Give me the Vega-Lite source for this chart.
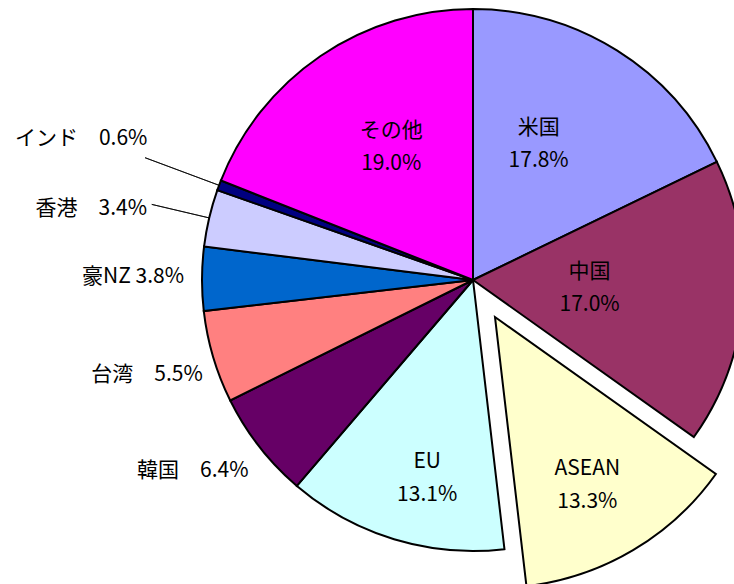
{
  "$schema": "https://vega.github.io/schema/vega-lite/v6.json",
  "autosize": "none",
  "width": 522,
  "height": 560,
  "padding": {"left": 212, "top": 0, "right": 0, "bottom": 24},
  "background": "white",
  "config": {"view": {"stroke": null}},
  "data": {
    "values": [
      {"name": "米国", "value": 17.8},
      {"name": "中国", "value": 17.0},
      {"name": "ASEAN", "value": 13.3},
      {"name": "EU", "value": 13.1},
      {"name": "韓国", "value": 6.4},
      {"name": "台湾", "value": 5.5},
      {"name": "豪NZ", "value": 3.8},
      {"name": "香港", "value": 3.4},
      {"name": "インド", "value": 0.6},
      {"name": "その他", "value": 19.0}
    ]
  },
  "transform": [
    {"window": [{"op": "row_number", "as": "idx"}]},
    {"calculate": "datum.name + '\\n' + format(datum.value, '.1f') + '%'", "as": "inLabel"},
    {"calculate": "datum.name + (datum.name === '豪NZ' ? ' ' : '\u3000') + format(datum.value, '.1f') + '%'", "as": "outLabel"}
  ],
  "encoding": {
    "theta": {"field": "value", "type": "quantitative", "stack": true},
    "order": {"field": "idx", "type": "quantitative"}
  },
  "layer": [
    {
      "mark": {"type": "arc", "outerRadius": 271, "stroke": "black", "strokeWidth": 2},
      "encoding": {
        "color": {
          "field": "name", "type": "nominal", "legend": null,
          "scale": {
            "domain": ["米国", "中国", "ASEAN", "EU", "韓国", "台湾", "豪NZ", "香港", "インド", "その他"],
            "range": ["#9999FF", "#993366", "#FFFFCC", "#CCFFFF", "#660066", "#FF8080", "#0066CC", "#CCCCFF", "#000080", "#FF00FF"]
          }
        },
        "opacity": {"condition": {"test": "datum.name === 'ASEAN'", "value": 0}, "value": 1}
      }
    },
    {
      "mark": {"type": "arc", "outerRadius": 271, "stroke": "black", "strokeWidth": 2, "xOffset": 22, "yOffset": 37},
      "encoding": {
        "color": {"field": "name", "type": "nominal", "legend": null},
        "opacity": {"condition": {"test": "datum.name === 'ASEAN'", "value": 1}, "value": 0}
      }
    },
    {
      "mark": {"type": "arc", "innerRadius": 271, "outerRadius": 350, "padAngle": 1, "filled": false, "stroke": "black", "strokeWidth": 0.8},
      "encoding": {
        "detail": {"field": "name"},
        "opacity": {"condition": {"test": "datum.name === 'インド'", "value": 1}, "value": 0}
      }
    },
    {
      "mark": {"type": "arc", "innerRadius": 271, "outerRadius": 330, "padAngle": 1, "filled": false, "stroke": "black", "strokeWidth": 0.8},
      "encoding": {
        "detail": {"field": "name"},
        "opacity": {"condition": {"test": "datum.name === '香港'", "value": 1}, "value": 0}
      }
    },
    {
      "mark": {"type": "text", "radius": 150, "dx": -14, "dy": -25, "fontSize": 21, "font": "Noto Sans CJK JP", "lineBreak": "\n", "lineHeight": 33, "align": "center", "baseline": "middle", "color": "black"},
      "encoding": {
        "text": {"field": "inLabel"}, "detail": {"field": "name"},
        "opacity": {"condition": {"test": "datum.name === '米国'", "value": 1}, "value": 0}
      }
    },
    {
      "mark": {"type": "text", "radius": 156, "dx": 6, "dy": -20, "fontSize": 21, "font": "Noto Sans CJK JP", "lineBreak": "\n", "lineHeight": 33, "align": "center", "baseline": "middle", "color": "black"},
      "encoding": {
        "text": {"field": "inLabel"}, "detail": {"field": "name"},
        "opacity": {"condition": {"test": "datum.name === 'その他'", "value": 1}, "value": 0}
      }
    },
    {
      "mark": {"type": "text", "radius": 117, "dx": 0, "dy": -18, "fontSize": 21, "font": "Noto Sans CJK JP", "lineBreak": "\n", "lineHeight": 33, "align": "center", "baseline": "middle", "color": "black"},
      "encoding": {
        "text": {"field": "inLabel"}, "detail": {"field": "name"},
        "opacity": {"condition": {"test": "datum.name === '中国'", "value": 1}, "value": 0}
      }
    },
    {
      "mark": {"type": "text", "radius": 202, "dx": 13, "dy": -11, "fontSize": 21, "font": "Noto Sans CJK JP", "lineBreak": "\n", "lineHeight": 33, "align": "center", "baseline": "middle", "color": "black"},
      "encoding": {
        "text": {"field": "inLabel"}, "detail": {"field": "name"},
        "opacity": {"condition": {"test": "datum.name === 'EU'", "value": 1}, "value": 0}
      }
    },
    {
      "mark": {"type": "text", "radius": 191, "dx": 17, "dy": 25, "fontSize": 21, "font": "Noto Sans CJK JP", "lineBreak": "\n", "lineHeight": 33, "align": "center", "baseline": "middle", "color": "black"},
      "encoding": {
        "text": {"field": "inLabel"}, "detail": {"field": "name"},
        "opacity": {"condition": {"test": "datum.name === 'ASEAN'", "value": 1}, "value": 0}
      }
    },
    {
      "mark": {"type": "text", "radius": 340, "dx": -12, "dy": -18, "fontSize": 21, "font": "Noto Sans CJK JP", "align": "center", "baseline": "middle", "color": "black"},
      "encoding": {
        "text": {"field": "outLabel"}, "detail": {"field": "name"},
        "opacity": {"condition": {"test": "datum.name === '韓国'", "value": 1}, "value": 0}
      }
    },
    {
      "mark": {"type": "text", "radius": 340, "dx": 0, "dy": -1, "fontSize": 21, "font": "Noto Sans CJK JP", "align": "center", "baseline": "middle", "color": "black"},
      "encoding": {
        "text": {"field": "outLabel"}, "detail": {"field": "name"},
        "opacity": {"condition": {"test": "datum.name === '台湾' || datum.name === '豪NZ'", "value": 1}, "value": 0}
      }
    },
    {
      "mark": {"type": "text", "radius": 388, "dx": -4, "dy": 18, "fontSize": 21, "font": "Noto Sans CJK JP", "align": "center", "baseline": "middle", "color": "black"},
      "encoding": {
        "text": {"field": "outLabel"}, "detail": {"field": "name"},
        "opacity": {"condition": {"test": "datum.name === '香港'", "value": 1}, "value": 0}
      }
    },
    {
      "mark": {"type": "text", "radius": 416, "dx": -2, "dy": 4, "fontSize": 21, "font": "Noto Sans CJK JP", "align": "center", "baseline": "middle", "color": "black"},
      "encoding": {
        "text": {"field": "outLabel"}, "detail": {"field": "name"},
        "opacity": {"condition": {"test": "datum.name === 'インド'", "value": 1}, "value": 0}
      }
    }
  ]
}
